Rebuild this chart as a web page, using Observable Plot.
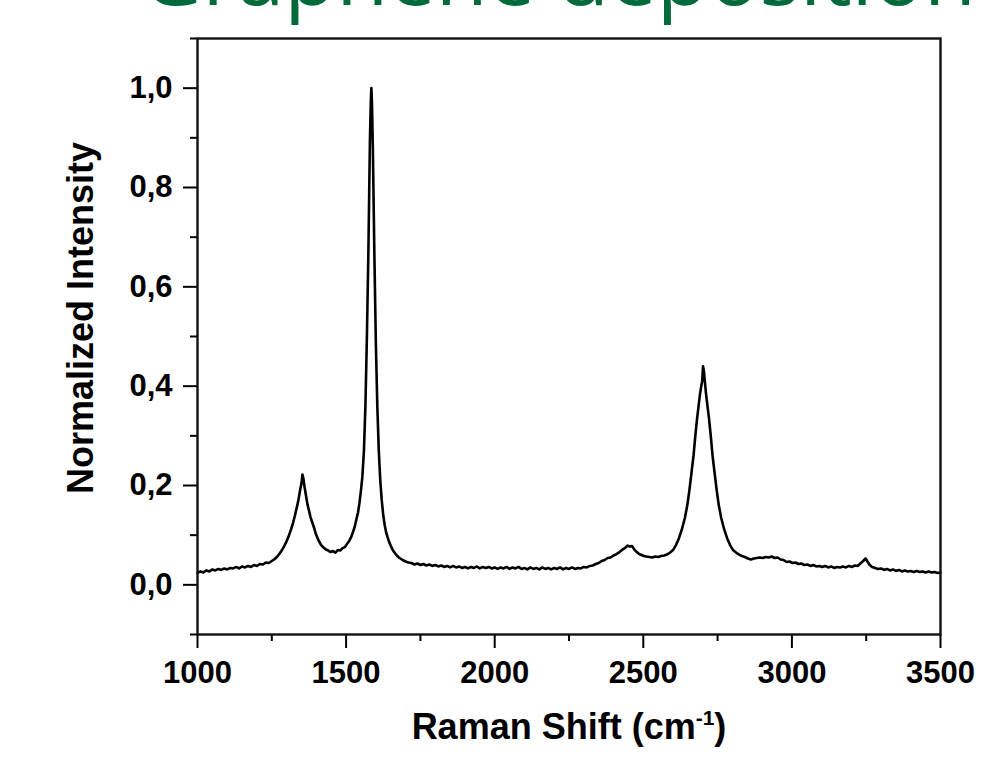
<!DOCTYPE html>
<html>
<head>
<meta charset="utf-8">
<script src="https://cdn.jsdelivr.net/npm/d3@7"></script>
<script src="https://cdn.jsdelivr.net/npm/@observablehq/plot@0.6"></script>
<style>
  body { margin: 0; background: #fff; overflow: hidden; }
  #chart { position: relative; width: 997px; height: 758px; }
</style>
</head>
<body>
<div id="chart"></div>
<script>
// ---- Data ----
const titleText = "Graphene deposition";
const xTitle = "Raman Shift (cm";
const xTitleSup = "-1";
const yTitle = "Normalized Intensity";

const xMajorTicks = [1000, 1500, 2000, 2500, 3000, 3500];
const xMinorTicks = [1250, 1750, 2250, 2750, 3250];
const yMajorTicks = [0, 0.2, 0.4, 0.6, 0.8, 1.0];
const yMinorTicks = [-0.1, 0.1, 0.3, 0.5, 0.7, 0.9, 1.1];

const wavenumber = [
  1000,1010,1020,1030,1040,1050,1060,1070,1080,1090,1100,1110,1120,1130,1140,1150,1160,1170,1180,1190,
  1200,1210,1220,1230,1240,1250,1260,1270,1280,1290,1300,1308,1315,1322,1328,1335,1340,1345,1350,1353,
  1356,1360,1365,1370,1375,1380,1386,1391,1398,1407,1415,1424,1432,1440,1448,1456,1464,1472,1480,1488,
  1496,1504,1511,1517,1523,1529,1535,1540,1545,1550,1555,1560,1565,1570,1575,1580,1583,1585,1587,1590,
  1595,1600,1605,1610,1615,1620,1625,1630,1635,1640,1645,1650,1657,1664,1672,1680,1690,1700,1710,
  1720,1730,1740,1750,1760,1770,1780,1790,1800,1810,1820,1830,1840,1850,1860,1870,1880,1890,1900,1910,
  1920,1930,1940,1950,1960,1970,1980,1990,2000,2010,2020,2030,2040,2050,2060,2070,2080,2090,2100,2110,
  2120,2130,2140,2150,2160,2170,2180,2190,2200,2210,2220,2230,2240,2250,2260,2270,2280,2290,2300,2310,
  2320,2330,2340,2350,2360,2370,2380,2390,2400,2410,2420,2430,2440,2448,2455,2462,2470,2478,2486,2494,
  2502,2510,2520,2530,2540,2550,2560,2570,2580,2590,2600,2610,2620,2630,2640,2648,2655,2662,2669,2675,
  2681,2686,2691,2695,2698,2701,2704,2707,2711,2716,2721,2727,2733,2740,2747,2754,2762,2772,2782,2792,
  2802,2812,2822,2832,2842,2852,2862,2872,2882,2892,2902,2912,2922,2932,2942,2952,2962,2972,2982,2992,
  3002,3012,3022,3032,3042,3052,3062,3072,3082,3092,3102,3112,3122,3132,3142,3152,3162,3172,3182,3192,
  3202,3212,3222,3230,3240,3248,3255,3262,3270,3280,3290,3300,3310,3320,3330,3340,3350,3360,3370,3380,
  3390,3400,3410,3420,3430,3440,3450,3460,3470,3480,3490,3500
];
const intensity = [
  .024,.027,.025,.029,.027,.031,.029,.032,.030,.033,.031,.034,.033,.036,.033,.037,.035,.038,.036,.040,
  .038,.042,.041,.045,.044,.048,.052,.058,.066,.076,.088,.100,.112,.126,.140,.158,.172,.190,.205,.222,
  .215,.198,.180,.162,.150,.137,.126,.117,.103,.090,.081,.075,.071,.069,.066,.068,.065,.070,.069,.074,
  .076,.083,.089,.096,.106,.117,.133,.145,.165,.190,.220,.270,.360,.500,.670,.890,.970,1.000,.970,.880,
  .670,.490,.360,.270,.210,.170,.140,.120,.105,.095,.086,.079,.070,.064,.058,.054,.050,.047,.045,
  .044,.041,.043,.040,.042,.039,.041,.038,.040,.037,.039,.036,.038,.035,.038,.035,.037,.034,.036,.033,
  .036,.034,.037,.033,.036,.034,.036,.033,.035,.032,.035,.033,.036,.032,.035,.033,.036,.032,.034,.031,
  .035,.032,.034,.031,.035,.032,.034,.031,.034,.032,.035,.031,.034,.032,.035,.032,.034,.033,.036,.035,
  .038,.039,.042,.044,.048,.050,.054,.055,.059,.062,.066,.071,.075,.079,.077,.078,.071,.066,.062,.060,
  .058,.057,.056,.055,.057,.056,.058,.059,.061,.065,.070,.080,.094,.112,.135,.160,.190,.225,.260,.300,
  .335,.360,.385,.400,.410,.440,.430,.410,.385,.360,.335,.300,.260,.225,.190,.160,.135,.112,.094,.080,
  .070,.065,.061,.058,.056,.053,.051,.053,.054,.055,.054,.056,.055,.057,.054,.055,.051,.050,.046,.047,
  .044,.045,.042,.043,.040,.041,.038,.040,.037,.038,.036,.038,.035,.037,.034,.036,.035,.037,.035,.038,
  .036,.039,.038,.043,.048,.053,.046,.040,.036,.034,.032,.033,.030,.032,.029,.031,.028,.030,.027,.029,
  .027,.028,.026,.028,.026,.027,.025,.027,.025,.026,.024,.025
];

const spectrum = wavenumber.map((x, i) => ({ x, y: intensity[i] }));

const labelFont = "'Liberation Sans', Arial, Helvetica, sans-serif";
const commaFormat = d => d.toFixed(1).replace(".", ",");

const chart = Plot.plot({
  width: 997,
  height: 758,
  marginLeft: 197,
  marginRight: 57,
  marginTop: 38,
  marginBottom: 124,
  style: { fontFamily: labelFont, fontWeight: "bold", color: "#000", background: "#fff" },
  x: { domain: [1000, 3500] },
  y: { domain: [-0.1, 1.1] },
  marks: [
    Plot.axisX({ ticks: xMinorTicks, tickSize: 7, strokeWidth: 2, tickFormat: () => "", label: null }),
    Plot.axisX({ ticks: xMajorTicks, tickSize: 14, tickPadding: 12, strokeWidth: 2,
      tickFormat: d => String(d), fontSize: 31, fontWeight: "bold", label: null }),
    Plot.axisY({ ticks: yMinorTicks, tickSize: 7, strokeWidth: 2, tickFormat: () => "", label: null }),
    Plot.axisY({ ticks: yMajorTicks, tickSize: 14, tickPadding: 11, strokeWidth: 2,
      tickFormat: commaFormat, fontSize: 31, fontWeight: "bold", label: null }),
    Plot.line(spectrum, { x: "x", y: "y", stroke: "#000", strokeWidth: 2.6, curve: "linear" }),
    Plot.frame({ stroke: "#111", strokeWidth: 2.4 })
  ]
});

document.getElementById("chart").appendChild(chart);

const svg = d3.select(chart);

// Title (partially cut off at the top in the reference)
const title = svg.append("text")
  .attr("x", 141).attr("y", 5)
  .attr("text-anchor", "start")
  .attr("fill", "#006a3a")
  .attr("font-family", "'Open Sans', 'Noto Sans', sans-serif")
  .attr("font-weight", "normal")
  .attr("font-size", 80)
  .text(titleText);
const tl = title.node().getComputedTextLength();
if (tl > 0) title.attr("font-size", 80 * 835 / tl);

// X axis title with superscript
const xt = svg.append("text")
  .attr("x", 569).attr("y", 739)
  .attr("text-anchor", "middle")
  .attr("font-family", labelFont)
  .attr("font-weight", "bold")
  .attr("font-size", 36)
  .attr("fill", "#000");
xt.append("tspan").text(xTitle);
xt.append("tspan").attr("font-size", 21).attr("dy", -14).text(xTitleSup);
xt.append("tspan").attr("dy", 14).text(")");

// Y axis title
svg.append("text")
  .attr("transform", "translate(93,318) rotate(-90)")
  .attr("text-anchor", "middle")
  .attr("font-family", labelFont)
  .attr("font-weight", "bold")
  .attr("font-size", 36)
  .attr("fill", "#000")
  .text(yTitle);
</script>
</body>
</html>
